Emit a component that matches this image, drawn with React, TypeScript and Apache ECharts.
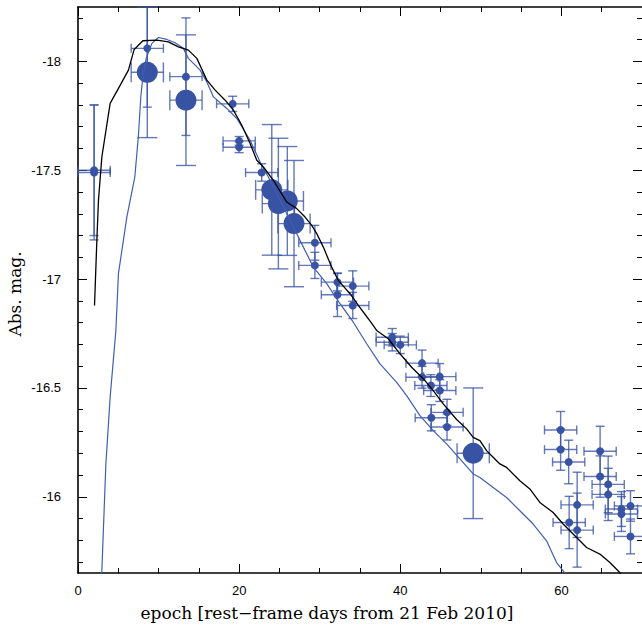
import React, { useEffect, useRef } from "react";
import * as echarts from "echarts";

// ---- data ----
const xMajorTicks = [0, 20, 40, 60];
const xMinorTicks = [5, 10, 15, 25, 30, 35, 45, 50, 55, 65, 70];
const yMajorTicks = [-18, -17.5, -17, -16.5, -16];
const yMinorTicks = [
  -18.2, -18.1, -17.9, -17.8, -17.7, -17.6, -17.4, -17.3, -17.2, -17.1,
  -16.9, -16.8, -16.7, -16.6, -16.4, -16.3, -16.2, -16.1, -15.9, -15.8, -15.7,
];

// [epoch, mag, epochErr, magErr]
const smallPoints = [
  [2.0, -17.5, 2, 0.3],
  [2.0, -17.49, 2, 0.31],
  [8.6, -18.06, 2, 0.27],
  [13.4, -17.93, 2, 0.27],
  [19.2, -17.805, 2, 0.035],
  [20.0, -17.635, 2, 0.02],
  [20.0, -17.606, 2, 0.025],
  [22.8, -17.49, 2, 0.04],
  [29.4, -17.167, 2, 0.08],
  [29.4, -17.063, 2, 0.06],
  [32.2, -16.986, 2, 0.04],
  [34.1, -16.968, 2, 0.07],
  [32.2, -16.928, 2, 0.1],
  [34.1, -16.879, 2, 0.06],
  [39.0, -16.733, 2, 0.04],
  [39.0, -16.71, 2, 0.04],
  [40.0, -16.698, 2, 0.04],
  [42.7, -16.614, 2, 0.06],
  [42.7, -16.549, 2, 0.05],
  [44.9, -16.552, 2, 0.06],
  [43.8, -16.511, 2, 0.05],
  [44.9, -16.488, 2, 0.05],
  [45.8, -16.388, 2, 0.06],
  [43.85, -16.363, 2, 0.06],
  [45.8, -16.321, 2, 0.06],
  [59.9, -16.307, 2, 0.085],
  [59.9, -16.217, 2, 0.095],
  [60.9, -16.16, 2, 0.1],
  [64.8, -16.209, 2, 0.115],
  [64.8, -16.093, 2, 0.095],
  [65.8, -16.057, 2, 0.13],
  [65.8, -16.011, 2, 0.12],
  [61.95, -15.963, 2, 0.15],
  [60.96, -15.882, 2, 0.12],
  [61.95, -15.847, 2, 0.17],
  [67.45, -15.944, 2, 0.08],
  [67.45, -15.921, 2, 0.08],
  [68.57, -15.958, 2, 0.07],
  [68.57, -15.818, 2, 0.08],
];

const bigPoints = [
  [8.6, -17.95, 2, 0.3],
  [13.4, -17.822, 2, 0.3],
  [24.05, -17.41, 2, 0.3],
  [24.87, -17.347, 2, 0.3],
  [25.98, -17.359, 2, 0.25],
  [26.81, -17.255, 2, 0.29],
  [49.05, -16.2, 2, 0.3],
];

const blackModel = [
  [2.05, -16.879], [2.34, -17.178], [2.54, -17.362], [2.96, -17.561], [3.99, -17.807],
  [5.02, -17.876], [6.26, -17.96], [6.97, -18.055], [8.05, -18.095], [9.79, -18.098],
  [11.22, -18.09], [12.46, -18.067], [13.7, -18.052], [14.75, -18.014], [15.99, -17.914],
  [17.02, -17.868], [18.26, -17.822], [19.29, -17.776], [20.33, -17.707], [21.36, -17.623],
  [22.19, -17.546], [22.6, -17.531], [23.01, -17.515], [24.25, -17.454], [25.91, -17.354],
  [27.15, -17.324], [28.18, -17.285], [29.01, -17.247], [29.63, -17.209], [30.45, -17.147],
  [31.49, -17.055], [32.31, -16.994], [33.76, -16.933], [34.79, -16.879], [36.03, -16.818],
  [37.07, -16.764], [38.51, -16.726], [39.96, -16.657], [41.41, -16.595], [43.06, -16.534],
  [44.09, -16.488], [45.33, -16.427], [46.99, -16.355], [48.23, -16.312], [49.05, -16.273],
  [49.88, -16.258], [50.71, -16.212], [51.12, -16.197], [52.36, -16.151], [53.19, -16.135],
  [54.84, -16.074], [56.08, -16.036], [57.32, -15.974], [58.97, -15.928], [60.21, -15.875],
  [61.88, -15.813], [63.12, -15.767], [64.77, -15.737], [66.01, -15.698], [67.24, -15.652],
  [68.5, -15.6],
];

const blueModel = [
  [2.9, -15.5], [2.96, -15.66], [3.46, -16.151], [3.99, -16.457], [4.7, -16.764],
  [5.02, -17.025], [6.06, -17.285], [7.05, -17.469], [7.5, -17.66], [7.8, -17.84],
  [8.05, -17.929], [8.46, -18.014], [9.17, -18.083], [9.98, -18.11], [11.03, -18.101],
  [12.05, -18.086], [13.08, -18.06], [13.7, -18.014], [14.32, -17.991], [15.16, -17.96],
  [15.99, -17.906], [16.81, -17.837], [18.47, -17.784], [19.71, -17.738], [21.36, -17.638],
  [22.6, -17.538], [23.84, -17.454], [26.73, -17.239], [27.97, -17.147], [29.21, -17.055],
  [30.87, -16.979], [32.52, -16.887], [34.17, -16.802], [35.83, -16.703], [37.48, -16.611],
  [39.55, -16.526], [40.79, -16.465], [42.44, -16.373], [44.09, -16.304], [45.75, -16.243],
  [47.4, -16.174], [49.05, -16.105], [49.88, -16.089], [51.53, -16.043], [53.19, -15.997],
  [54.84, -15.936], [56.49, -15.875], [58.15, -15.798], [59.4, -15.698], [60.42, -15.651],
  [61.0, -15.62],
];

const xTitle = "epoch [rest\u2212frame days from 21 Feb 2010]";
const yTitle = "Abs. mag.";

// ---- styles ----
const BLUE = "#3953a4";
const BAR = "rgba(57,83,164,0.78)";
const BLUE_LINE = "#3f5fb3";
const X_MIN = 0, X_MAX = 70, Y_MIN = -18.25, Y_MAX = -15.65;

function xAxis(position: string, ticks: number[], len: number, labels: boolean, line: boolean) {
  return {
    type: "value", position, min: X_MIN, max: X_MAX,
    axisLine: { show: line, onZero: false, lineStyle: { color: "#000", width: 1.6 } },
    axisTick: { show: true, inside: true, length: len, customValues: ticks, lineStyle: { color: "#000", width: 1 } },
    axisLabel: labels
      ? { show: true, customValues: ticks, margin: 11, color: "#000", fontSize: 13, fontFamily: "Liberation Sans, Arial, sans-serif" }
      : { show: false },
    splitLine: { show: false },
  };
}
function yAxis(position: string, ticks: number[], len: number, labels: boolean, line: boolean) {
  return {
    type: "value", position, min: Y_MIN, max: Y_MAX, inverse: true,
    axisLine: { show: line, onZero: false, lineStyle: { color: "#000", width: 1.6 } },
    axisTick: { show: true, inside: true, length: len, customValues: ticks, lineStyle: { color: "#000", width: 1 } },
    axisLabel: labels
      ? { show: true, customValues: ticks, margin: 17, color: "#000", fontSize: 13, fontFamily: "Liberation Sans, Arial, sans-serif" }
      : { show: false },
    splitLine: { show: false },
  };
}

function errRender(big: boolean) {
  return (params: any, api: any) => {
    const x = api.value(0), y = api.value(1), xe = api.value(2), ye = api.value(3);
    const cs = params.coordSys;
    const c = api.coord([x, y]);
    const l = api.coord([x - xe, y])[0], r = api.coord([x + xe, y])[0];
    const ya = api.coord([x, y - ye])[1], yb = api.coord([x, y + ye])[1];
    const top0 = Math.min(ya, yb), bot0 = Math.max(ya, yb);
    const x0 = cs.x, x1 = cs.x + cs.width, y0 = cs.y, y1 = cs.y + cs.height;
    const L = Math.max(l, x0), R = Math.min(r, x1), T = Math.max(top0, y0), B = Math.min(bot0, y1);
    const cap = big ? 10 : 4.5;
    const style = { stroke: BAR, lineWidth: 1.4 };
    const kids: any[] = [
      { type: "line", shape: { x1: L, y1: c[1], x2: R, y2: c[1] }, style },
      { type: "line", shape: { x1: c[0], y1: T, x2: c[0], y2: B }, style },
    ];
    if (l >= x0 - 0.5) kids.push({ type: "line", shape: { x1: l, y1: c[1] - cap, x2: l, y2: c[1] + cap }, style });
    if (r <= x1 + 0.5) kids.push({ type: "line", shape: { x1: r, y1: c[1] - cap, x2: r, y2: c[1] + cap }, style });
    if (top0 >= y0 - 0.5) kids.push({ type: "line", shape: { x1: c[0] - cap, y1: top0, x2: c[0] + cap, y2: top0 }, style });
    if (bot0 <= y1 + 0.5) kids.push({ type: "line", shape: { x1: c[0] - cap, y1: bot0, x2: c[0] + cap, y2: bot0 }, style });
    return { type: "group", children: kids };
  };
}

export default function App() {
  const ref = useRef<HTMLDivElement>(null);
  useEffect(() => {
    if (!ref.current) return;
    const chart = echarts.init(ref.current, null, { renderer: "svg" });
    chart.setOption({
      animation: false,
      backgroundColor: "#fff",
      grid: { left: 78, right: 0, top: 7, bottom: 58, containLabel: false },
      xAxis: [
        xAxis("bottom", xMajorTicks, 9, true, true),
        xAxis("bottom", xMinorTicks, 5, false, false),
        xAxis("top", xMajorTicks, 9, false, true),
        xAxis("top", xMinorTicks, 5, false, false),
      ],
      yAxis: [
        yAxis("left", yMajorTicks, 9, true, true),
        yAxis("left", yMinorTicks, 5, false, false),
        yAxis("right", yMajorTicks, 9, false, false),
        yAxis("right", yMinorTicks, 5, false, false),
      ],
      graphic: [
        {
          type: "text", x: 327, y: 613,
          style: { text: xTitle, font: "17px 'DejaVu Serif', serif", fill: "#000", align: "center", verticalAlign: "middle" },
        },
        {
          type: "text", x: 15, y: 294, rotation: Math.PI / 2,
          style: { text: yTitle, font: "17px 'DejaVu Serif', serif", fill: "#000", align: "center", verticalAlign: "middle" },
        },
      ],
      series: [
        {
          type: "custom", xAxisIndex: 0, yAxisIndex: 0, silent: true, z: 2,
          encode: { x: 0, y: 1 }, data: smallPoints, renderItem: errRender(false),
        },
        {
          type: "custom", xAxisIndex: 0, yAxisIndex: 0, silent: true, z: 2,
          encode: { x: 0, y: 1 }, data: bigPoints, renderItem: errRender(true),
        },
        {
          type: "scatter", xAxisIndex: 0, yAxisIndex: 0, z: 3, symbolSize: 8,
          data: smallPoints.map((p) => [p[0], p[1]]), itemStyle: { color: BLUE, opacity: 1 },
        },
        {
          type: "scatter", xAxisIndex: 0, yAxisIndex: 0, z: 3, symbolSize: 21,
          data: bigPoints.map((p) => [p[0], p[1]]), itemStyle: { color: BLUE, opacity: 1 },
        },
        {
          type: "line", xAxisIndex: 0, yAxisIndex: 0, z: 4, showSymbol: false, clip: true,
          data: blueModel, lineStyle: { color: BLUE_LINE, width: 1.2 },
        },
        {
          type: "line", xAxisIndex: 0, yAxisIndex: 0, z: 5, showSymbol: false, clip: true,
          data: blackModel, lineStyle: { color: "#000", width: 1.3 },
        },
      ],
    });
    return () => chart.dispose();
  }, []);
  return <div ref={ref} style={{ position: "fixed", left: 0, top: 0, width: 642, height: 631, background: "#fff" }} />;
}
